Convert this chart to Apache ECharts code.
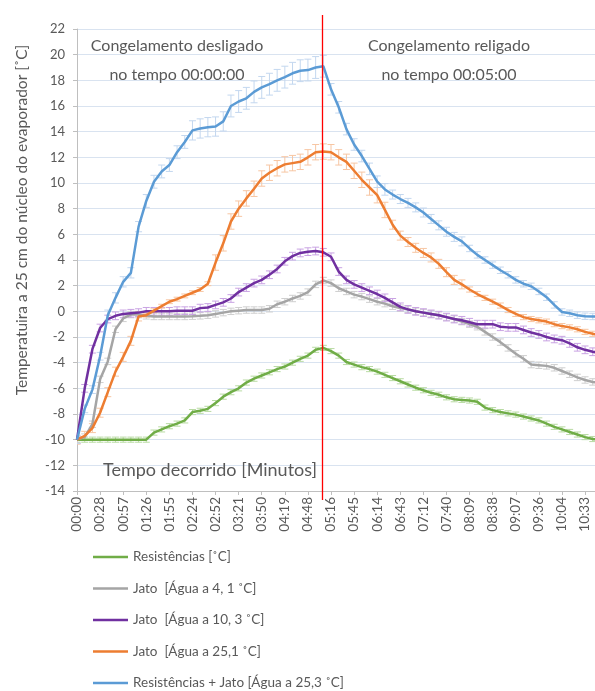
<!DOCTYPE html>
<html><head><meta charset="utf-8">
<script src="https://cdn.jsdelivr.net/npm/echarts@6/dist/echarts.min.js"></script>
<style>html,body{margin:0;padding:0;background:#fff}#c{width:595px;height:691px}</style>
</head><body><div id="c"></div>
<script>
// sample times in seconds
const timeSec = [0,9.6,19.2,28.8,38.4,48,57.6,67.2,76.8,86.4,96,105.6,115.2,124.8,134.4,144,153.6,163.2,172.8,182.4,192,201.6,211.2,220.8,230.4,240,249.6,259.2,268.8,278.4,288,297.6,307.2,316.8,326.4,336,345.6,355.2,364.8,374.4,384,393.6,403.2,412.8,422.4,432,441.6,451.2,460.8,470.4,480,489.6,499.2,508.8,518.4,528,537.6,547.2,556.8,566.4,576,585.6,595.2,604.8,614.4,624,633.6,643.2,652.8];

const xTickLabels = ['00:00','00:28','00:57','01:26','01:55','02:24','02:52','03:21','03:50','04:19','04:48','05:16','05:45','06:14','06:43','07:12','07:40','08:09','08:38','09:07','09:36','10:04','10:33'];
const xTickStep = 28.8;
const redLineTime = 305;

const resist = [-10,-10,-10,-10,-10,-10,-10,-10,-10,-10,-9.45,-9.2,-8.95,-8.75,-8.5,-7.85,-7.75,-7.6,-7.15,-6.65,-6.3,-6.0,-5.55,-5.25,-5.0,-4.75,-4.5,-4.3,-4.0,-3.7,-3.45,-3.0,-2.85,-3.1,-3.45,-3.95,-4.15,-4.35,-4.5,-4.7,-4.95,-5.2,-5.45,-5.7,-5.95,-6.15,-6.35,-6.5,-6.7,-6.85,-6.9,-6.95,-7.05,-7.5,-7.7,-7.85,-7.95,-8.05,-8.2,-8.35,-8.5,-8.75,-9.0,-9.2,-9.4,-9.6,-9.8,-9.95,-10.0];
const jato4 = [-10,-9.8,-8.8,-5.3,-3.9,-1.4,-0.55,-0.25,-0.25,-0.35,-0.4,-0.4,-0.4,-0.4,-0.4,-0.38,-0.35,-0.3,-0.2,-0.1,0.0,0.05,0.1,0.1,0.1,0.2,0.55,0.75,1.0,1.2,1.5,2.1,2.4,2.2,1.8,1.55,1.3,1.15,0.95,0.75,0.6,0.4,0.25,0.15,0.0,-0.1,-0.2,-0.3,-0.45,-0.6,-0.8,-1.0,-1.2,-1.6,-2.0,-2.4,-2.85,-3.3,-3.7,-4.15,-4.2,-4.25,-4.4,-4.65,-4.9,-5.15,-5.35,-5.5,-5.6];
const jato10 = [-10,-6.0,-2.95,-1.3,-0.6,-0.35,-0.2,-0.15,-0.1,0.0,0.0,0.0,0.0,0.05,0.05,0.05,0.25,0.3,0.5,0.7,1.0,1.5,1.85,2.2,2.45,2.85,3.3,3.9,4.3,4.55,4.65,4.7,4.6,4.25,3.1,2.45,2.1,1.85,1.6,1.35,1.05,0.7,0.35,0.15,0.0,-0.1,-0.2,-0.3,-0.45,-0.6,-0.7,-0.85,-1.0,-1.0,-1.0,-1.2,-1.25,-1.25,-1.45,-1.65,-1.8,-2.0,-2.15,-2.25,-2.5,-2.8,-3.0,-3.15,-3.25];
const jato25 = [-10,-9.7,-9.1,-7.9,-6.3,-4.7,-3.55,-2.3,-0.4,-0.3,0.05,0.4,0.75,0.95,1.2,1.45,1.7,2.15,3.8,5.3,7.0,8.0,8.8,9.55,10.35,10.8,11.15,11.45,11.55,11.65,12.0,12.4,12.45,12.4,12.0,11.65,10.95,10.25,9.65,9.05,7.9,6.75,5.9,5.4,4.95,4.55,4.2,3.7,3.05,2.45,2.1,1.7,1.35,1.05,0.75,0.45,0.1,-0.2,-0.45,-0.6,-0.7,-0.8,-1.0,-1.15,-1.25,-1.4,-1.6,-1.75,-1.85];
const resistJato = [-10,-7.6,-6.1,-3.5,-0.3,1.05,2.3,3.0,6.6,8.6,10.1,10.9,11.4,12.4,13.2,14.1,14.25,14.35,14.4,14.8,16.0,16.35,16.6,17.1,17.45,17.7,18.0,18.25,18.55,18.75,18.8,19.0,19.1,17.3,15.9,14.2,13.0,12.1,11.1,10.1,9.5,9.1,8.75,8.45,8.1,7.7,7.2,6.7,6.2,5.8,5.45,4.9,4.4,4.0,3.6,3.2,2.85,2.45,2.15,1.95,1.55,1.1,0.5,-0.05,-0.15,-0.3,-0.38,-0.4,-0.4];

// error bar half-widths
const resistErr = 0.2;
const jato4Err = 0.25;
const jato10Err = 0.3;
const jato25Err = [0.35,0.35,0.35,0.35,0.35,0.35,0.35,0.35,0.35,0.15,0.15,0.15,0.15,0.15,0.15,0.15,0.15,0.15,0.6,0.6,0.6,0.6,0.6,0.6,0.6,0.6,0.6,0.6,0.6,0.6,0.6,0.6,0.6,0.6,0.6,0.6,0.6,0.6,0.6,0.6,0.6,0.35,0.35,0.35,0.35,0.35,0.35,0.35,0.35,0.35,0.35,0.2,0.2,0.2,0.2,0.2,0.2,0.2,0.2,0.2,0.2,0.2,0.2,0.2,0.2,0.2,0.2,0.2,0.2];
const resistJatoErr = [0.3,0.3,0.3,0.3,0.4,0.4,0.4,0.4,0.4,0.5,0.5,0.5,0.5,0.5,0.5,0.75,0.75,0.75,0.75,0.75,0.85,0.85,0.85,0.85,0.85,0.85,0.85,0.85,0.85,0.85,0.85,0.85,0.85,0.45,0.45,0.45,0.45,0.45,0.45,0.45,0.45,0.35,0.35,0.35,0.35,0.35,0.35,0.35,0.35,0.35,0.35,0.25,0.25,0.25,0.25,0.25,0.25,0.25,0.25,0.25,0.25,0.25,0.25,0.25,0.25,0.25,0.25,0.25,0.25];

const seriesNames = ['Resistências [˚C]','Jato  [Água a 4, 1 ˚C]','Jato  [Água a 10, 3 ˚C]','Jato  [Água a 25,1 ˚C]','Resistências + Jato [Água a 25,3 ˚C]'];
const seriesValues = [resist, jato4, jato10, jato25, resistJato];
const seriesErrors = [resistErr, jato4Err, jato10Err, jato25Err, resistJatoErr];
const lineColors = ['#70ad47','#a5a5a5','#7030a0','#ed7d31','#5b9bd5'];
const errColors = ['#b9dba4','#cfcfcf','#c9a3e3','#f7c6a3','#c3d7ef'];

const FONT = 'Lato';
const TXT = '#595959';

function errRender(params, api) {
  const x = api.value(0), lo = api.value(1), hi = api.value(2);
  const p1 = api.coord([x, lo]), p2 = api.coord([x, hi]);
  const cw = 3.5;
  const style = {stroke: api.visual('color'), lineWidth: 1};
  return {type: 'group', children: [
    {type: 'line', shape: {x1: p1[0], y1: p1[1], x2: p2[0], y2: p2[1]}, style: style},
    {type: 'line', shape: {x1: p1[0] - cw, y1: p1[1], x2: p1[0] + cw, y2: p1[1]}, style: style},
    {type: 'line', shape: {x1: p2[0] - cw, y1: p2[1], x2: p2[0] + cw, y2: p2[1]}, style: style}
  ]};
}

const series = [];
seriesValues.forEach(function (vals, k) {
  const err = seriesErrors[k];
  series.push({
    type: 'custom', name: seriesNames[k] + ' err', renderItem: errRender, clip: true, z: 1,
    itemStyle: {color: errColors[k]}, encode: {x: 0, y: [1, 2]}, silent: true,
    data: vals.map(function (v, i) { const e = Array.isArray(err) ? err[i] : err; return [timeSec[i], v - e, v + e]; })
  });
});
seriesValues.forEach(function (vals, k) {
  series.push({
    type: 'line', name: seriesNames[k], symbol: 'none', showSymbol: false, z: 3 + k, clip: true,
    lineStyle: {width: 2.5, color: lineColors[k]}, itemStyle: {color: lineColors[k]},
    data: vals.map(function (v, i) { return [timeSec[i], v]; })
  });
});

const chart = echarts.init(document.getElementById('c'), null, {renderer: 'canvas'});
chart.setOption({
  animation: false,
  backgroundColor: '#fff',
  textStyle: {fontFamily: FONT},
  grid: {left: 77, right: 0, top: 29, bottom: 200, containLabel: false, outerBoundsMode: 'none'},
  xAxis: {
    type: 'value', min: 0, max: 646, interval: xTickStep,
    splitLine: {show: false},
    axisLine: {onZero: false, lineStyle: {color: '#bfbfbf', width: 1}},
    axisTick: {show: true, length: 4, lineStyle: {color: '#bfbfbf'}},
    axisLabel: {
      rotate: 90, color: TXT, fontFamily: FONT, fontSize: 13.5, margin: 6, showMaxLabel: false,
      formatter: function (v) { const idx = Math.round(v / xTickStep); return xTickLabels[idx] || ''; }
    }
  },
  yAxis: {
    type: 'value', min: -14, max: 22, interval: 2,
    splitLine: {show: true, lineStyle: {color: '#d9e3f0', width: 1}},
    axisLine: {show: true, onZero: false, lineStyle: {color: '#bfbfbf', width: 1}},
    axisTick: {show: true, length: 4, lineStyle: {color: '#bfbfbf'}},
    axisLabel: {color: TXT, fontFamily: FONT, fontSize: 13, margin: 12}
  },
  legend: {
    data: seriesNames, orient: 'vertical', left: 88, top: 545, height: 180,
    icon: 'rect', itemWidth: 35, itemHeight: 2.5, itemGap: 17.5,
    textStyle: {color: TXT, fontFamily: FONT, fontSize: 13.5, lineHeight: 12}
  },
  series: series
});

const redX = Math.round(chart.convertToPixel({xAxisIndex: 0}, redLineTime)) + 0.5;
chart.setOption({
  graphic: [
    {type: 'line', shape: {x1: redX, y1: 15, x2: redX, y2: 500}, style: {stroke: '#ff0000', lineWidth: 1.3}, z: 50},
    {type: 'text', x: 177, y: 46, style: {text: 'Congelamento desligado', fill: TXT, font: '16px ' + FONT, textAlign: 'center', textVerticalAlign: 'middle'}, z: 60},
    {type: 'text', x: 177, y: 75, style: {text: 'no tempo 00:00:00', fill: TXT, font: '16px ' + FONT, textAlign: 'center', textVerticalAlign: 'middle'}, z: 60},
    {type: 'text', x: 449, y: 46, style: {text: 'Congelamento religado', fill: TXT, font: '16px ' + FONT, textAlign: 'center', textVerticalAlign: 'middle'}, z: 60},
    {type: 'text', x: 449, y: 75, style: {text: 'no tempo 00:05:00', fill: TXT, font: '16px ' + FONT, textAlign: 'center', textVerticalAlign: 'middle'}, z: 60},
    {type: 'text', x: 210, y: 470, style: {text: 'Tempo decorrido [Minutos]', fill: TXT, font: '18px ' + FONT, textAlign: 'center', textVerticalAlign: 'middle'}, z: 60},
    {type: 'text', x: 22, y: 220, rotation: Math.PI / 2, style: {text: 'Temperatuira a 25 cm do núcleo do evaporador [˚C]', fill: TXT, font: '15.5px ' + FONT, textAlign: 'center', textVerticalAlign: 'middle'}, z: 60}
  ]
});
</script>
</body></html>
